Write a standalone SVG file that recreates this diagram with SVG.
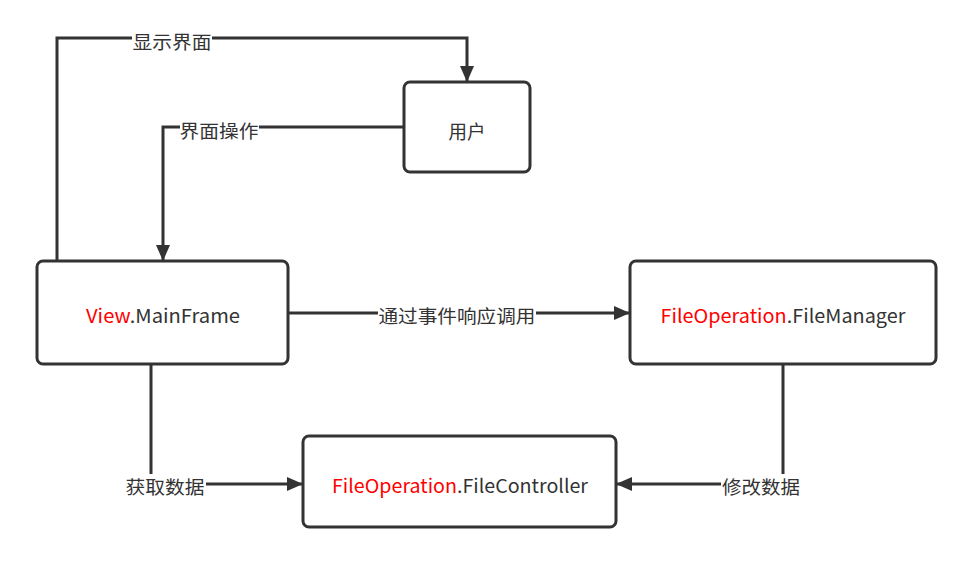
<svg xmlns="http://www.w3.org/2000/svg" width="973" height="565" viewBox="0 0 973 565">
<style>
.box{fill:#fff;stroke:#333;stroke-width:3}
.ln{fill:none;stroke:#333;stroke-width:3}
.t{font-family:"Noto Sans CJK SC","Noto Sans",sans-serif;font-size:19px;fill:#333;text-anchor:middle;dominant-baseline:central}
.lb{font-family:"Noto Sans CJK SC","Noto Sans",sans-serif;font-size:18.5px;fill:#333;text-anchor:middle;dominant-baseline:central}
.r{fill:#ff0000}
</style>
<defs>
<marker id="ah" viewBox="0 0 16 14" refX="16" refY="7" markerWidth="16" markerHeight="14" markerUnits="userSpaceOnUse" orient="auto">
<path d="M0,0 L16,7 L0,14 Z" fill="#333"/>
</marker>
</defs>
<rect width="973" height="565" fill="#fff"/>
<g id="connectors">
<path class="ln" d="M57,261 V38 H467 V82" marker-end="url(#ah)"/>
<path class="ln" d="M404,127 H163 V261" marker-end="url(#ah)"/>
<path class="ln" d="M288,313 H630" marker-end="url(#ah)"/>
<path class="ln" d="M151,364 V484 H303" marker-end="url(#ah)"/>
<path class="ln" d="M783,364 V484 H616" marker-end="url(#ah)"/>
<rect x="132" y="30" width="80" height="20" fill="#fff"/>
<text class="lb" x="172" y="41" textLength="79" lengthAdjust="spacingAndGlyphs">显示界面</text>
<rect x="180" y="118" width="79" height="20" fill="#fff"/>
<text class="lb" x="219" y="130" textLength="79" lengthAdjust="spacingAndGlyphs">界面操作</text>
<rect x="378" y="303" width="158" height="22" fill="#fff"/>
<text class="lb" x="457" y="315" textLength="157" lengthAdjust="spacingAndGlyphs">通过事件响应调用</text>
<rect x="124" y="474" width="82" height="22" fill="#fff"/>
<text class="lb" x="165" y="486" textLength="79" lengthAdjust="spacingAndGlyphs">获取数据</text>
<rect x="721" y="474" width="80" height="22" fill="#fff"/>
<text class="lb" x="761" y="486" textLength="78" lengthAdjust="spacingAndGlyphs">修改数据</text>
</g>
<g id="user">
<rect class="box" x="404" y="82" width="126" height="90" rx="6"/>
<text class="t" x="467" y="130" textLength="37" lengthAdjust="spacingAndGlyphs">用户</text>
</g>
<g id="mainframe">
<rect class="box" x="37" y="261" width="251" height="103" rx="6"/>
<text class="t" x="163" y="314" textLength="154" lengthAdjust="spacingAndGlyphs"><tspan class="r">View</tspan>.MainFrame</text>
</g>
<g id="filemanager">
<rect class="box" x="630" y="261" width="306" height="103" rx="6"/>
<text class="t" x="783" y="314" textLength="245" lengthAdjust="spacingAndGlyphs"><tspan class="r">FileOperation</tspan>.FileManager</text>
</g>
<g id="filecontroller">
<rect class="box" x="303" y="436" width="313" height="91" rx="6"/>
<text class="t" x="460" y="484" textLength="256" lengthAdjust="spacingAndGlyphs"><tspan class="r">FileOperation</tspan>.FileController</text>
</g>
</svg>
